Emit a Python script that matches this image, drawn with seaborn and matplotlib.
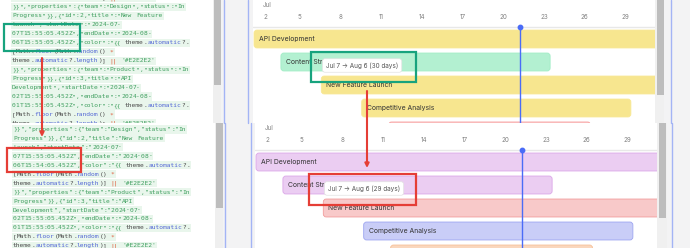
import re
import pandas as pd
import numpy as np
import matplotlib
matplotlib.use('Agg')
import matplotlib.pyplot as plt
import seaborn as sns
from matplotlib.patches import Rectangle, FancyBboxPatch

# --- data -------------------------------------------------------------
tasks = ["API Development", "Content Strategy", "New Feature Launch",
         "Competitive Analysis", "Market Research"]
start_dates = ["2024-07-02T15:55", "2024-07-04T15:55", "2024-07-07T15:55",
               "2024-07-10T15:55", "2024-07-12T15:55"]
end_dates_before = ["2024-08-01T15:55", "2024-07-24T15:55", "2024-08-06T15:55",
                    "2024-07-30T15:55", "2024-07-27T15:55"]
end_dates_after = ["2024-08-01T15:55", "2024-07-24T15:55", "2024-08-06T15:54",
                   "2024-07-30T15:55", "2024-07-27T15:55"]
colors_before = ["#f7e68f", "#b3f0d1", "#f7e68f", "#f7e68f", "#fcd6d6"]
colors_after = ["#ebcdf2", "#ebcdf2", "#f8c9c9", "#c9cdf7", "#fad7bd"]
day_ticks = [2, 5, 8, 11, 14, 17, 20, 23, 26, 29]
today = "2024-07-22T10:00"
tooltip_task = "New Feature Launch"

code_before = [
    "theme.automatic?.length)] || '#E2E2E2'",
    '}}","properties":{"team":"Design","status":"In',
    'Progress"}},{"id":2,"title":"New Feature',
    'Launch","startDate":"2024-07-',
    '07T15:55:05.452Z","endDate":"2024-08-',
    '06T15:55:05.452Z","color":"{{ theme.automatic?.',
    '[Math.floor(Math.random() *',
    "theme.automatic?.length)] || '#E2E2E2'",
    '}}","properties":{"team":"Product","status":"In',
    'Progress"}},{"id":3,"title":"API',
    'Development","startDate":"2024-07-',
    '02T15:55:05.452Z","endDate":"2024-08-',
    '01T15:55:05.452Z","color":"{{ theme.automatic?.',
    '[Math.floor(Math.random() *',
    "theme.automatic?.length)] || '#E2E2E2'",
]
code_after = list(code_before)
code_after[5] = '06T15:54:05.452Z","color":"{{ theme.automatic?.'

# --- setup ------------------------------------------------------------
sns.set_theme(style="white")
plt.rcParams['font.family'] = ['Inter', 'DejaVu Sans']

W, H = 690, 248
fig = plt.figure(figsize=(W / 100, H / 100), dpi=100, facecolor='#f3f3f4')


def px_axes(x0, y0, w, h, z=1):
    ax = fig.add_axes([x0 / W, 1 - (y0 + h) / H, w / W, h / H], zorder=z)
    return ax


def to_day(s):
    t = pd.Timestamp(s)
    return (t - pd.Timestamp("2024-07-01")) / pd.Timedelta(days=1) + 1


GREEN, DARK, BLUE, RED = '#3f9f5f', '#4a4a4a', '#5266d6', '#e0603f'
FS = 4.5
CW = 0.602 * FS * 100 / 72
TOKEN = re.compile(r"\{\{|\}\}|'[^']*'|[A-Za-z_]+|\|\||.")


def draw_code(ax, lines, x0, y0, ls, in_tpl):
    for i, line in enumerate(lines):
        y = y0 + i * ls
        ax.add_patch(Rectangle((x0 - 1, y - 4.2), len(line) * CW + 2, 8.4,
                               fc='#e9f6ec', ec='none', zorder=1))
        col = 0
        for m in TOKEN.finditer(line):
            tok = m.group()
            if tok in ('{{', '}}'):
                c = GREEN
                in_tpl = tok == '{{'
            elif not in_tpl or tok.startswith("'"):
                c = GREEN
            elif tok in ('theme', 'Math'):
                c = DARK
            elif tok[0].isalpha():
                c = BLUE
            elif tok in ('*', '||'):
                c = RED
            else:
                c = DARK
            if not tok.isspace():
                ax.text(x0 + col * CW, y, tok, color=c, fontsize=FS,
                        family='DejaVu Sans Mono', va='center', ha='left',
                        clip_on=True, zorder=2)
            col += len(tok)


def code_panel(x0, y0, w, h, lines, tx, ty, in_tpl):
    ax = px_axes(x0, y0, w, h)
    ax.set_xlim(0, w)
    ax.set_ylim(h, 0)
    ax.set_facecolor('white')
    ax.axis('off')
    ax.add_patch(Rectangle((0, 0), w, h, fc='white', ec='none', zorder=0))
    draw_code(ax, lines, tx, ty, 8.97, in_tpl)


code_panel(0, 0, 213, 123, code_before, 12, -2.0, True)
# the lower screenshot starts one line further down the same text
code_panel(0, 123, 215, 125, code_after[1:], 13, 6.3, True)

PXD = 13.46  # pixels per day
ROW0, ROWH = 39, 23


def ry(px):
    return (px - ROW0) / ROWH


def gantt(x0, y0, w, h, end_dates, colors):
    ax = px_axes(x0, y0, w, h, z=2)
    df = pd.DataFrame({
        'task': tasks,
        'start': [to_day(s) for s in start_dates],
        'end': [to_day(e) for e in end_dates],
    })
    df['dur'] = df['end'] - df['start']
    sns.barplot(data=df, x='dur', y='task', hue='task', palette=colors,
                orient='h', width=0.78, legend=False, ax=ax)
    left = df['start'].iloc[0] - 1 / PXD
    xlim = (left, left + w / PXD)
    ylim = (ry(h), ry(0))
    ax.set_xlim(*xlim)
    ax.set_ylim(*ylim)
    aspect = (1 / ROWH) / (1 / PXD)
    for patch, st, col in zip(list(ax.patches), df['start'], colors):
        y, hh, ww = patch.get_y(), patch.get_height(), patch.get_width()
        patch.remove()
        ax.add_patch(FancyBboxPatch((st, y), ww, hh,
                                    boxstyle="round,pad=0,rounding_size=0.22",
                                    mutation_aspect=aspect, fc=col,
                                    ec=sns.set_hls_values(col, l=0.78), lw=0.6,
                                    zorder=2))
    for t, st in zip(df['task'], df['start']):
        ax.text(st + 0.37, tasks.index(t), t, fontsize=4.9, color='#333333',
                va='center', ha='left', clip_on=True, zorder=3)
    # header
    ax.text(xlim[0] + 0.75, ry(5), 'Jul', fontsize=4.5, color='#808080',
            va='center', ha='left')
    for d in day_ticks:
        ax.text(max(d + 0.93, xlim[0] + 0.75), ry(17), str(d), fontsize=4.5,
                color='#808080', va='center', ha='left')
    ax.axhline(ry(27), color='#e8e8e8', lw=1, zorder=1)
    # today marker
    td = to_day(today)
    ax.plot([td, td], [ry(27), ylim[0]], color='#4a6cf7', lw=1, zorder=4)
    ax.plot([td], [ry(27)], 'o', color='#4a6cf7', ms=3.2, zorder=5)
    # tooltip
    i = tasks.index(tooltip_task)
    st, en = pd.Timestamp(start_dates[i]), pd.Timestamp(end_dates[i])
    ndays = int((en - st) / pd.Timedelta(days=1))
    label = f"{st.strftime('%b')} {st.day} → {en.strftime('%b')} {en.day} ({ndays} days)"
    ax.text(df['start'].iloc[i] + 0.35, ry(65.5), label, fontsize=4.6,
            color='#555555', va='center', ha='left', zorder=6,
            bbox=dict(boxstyle='round,pad=0.55,rounding_size=0.4', fc='white',
                      ec='#e2e2e2', lw=0.5))
    ax.set_xticks([])
    ax.set_yticks([])
    ax.set_xlabel('')
    ax.set_ylabel('')
    ax.set_facecolor('white')
    for s in ax.spines.values():
        s.set_visible(False)
    return ax


gantt(253, 0, 402, 123, end_dates_before, colors_before)
gantt(255, 123, 402, 125, end_dates_after, colors_after)

# --- overlay: scrollbars, borders, highlights ------------------------
ov = px_axes(0, 0, W, H, z=10)
ov.set_xlim(0, W)
ov.set_ylim(H, 0)
ov.axis('off')
ov.patch.set_alpha(0)


def rect(x, y, w, h, c):
    ov.add_patch(Rectangle((x, y), w, h, fc=c, ec='none'))


rect(213, 0, 8, 123, '#efefef')
rect(214, 0, 7, 85, '#bdbdbd')
rect(215, 123, 8, 125, '#efefef')
rect(216, 123, 7, 85, '#bdbdbd')
rect(655, 0, 9, 123, '#f0f0f0')
rect(657, 0, 7, 95, '#bdbdbd')
rect(657, 123, 10, 125, '#f0f0f0')
rect(659, 123, 7, 95, '#bdbdbd')
for x, y1, y2 in [(224, 0, 123), (225, 123, 248), (248, 0, 123),
                  (250.5, 123, 248), (671, 0, 123), (672, 123, 248)]:
    ov.plot([x, x], [y1, y2], color='#a3b4f5', lw=1)

GBOX, RBOX = '#17a37e', '#e53e36'
for (x, y, w, h, c) in [(4, 24, 76, 27, GBOX), (311, 52, 105, 30, GBOX),
                        (7, 148, 74, 24, RBOX), (309, 174, 107, 31, RBOX)]:
    ov.add_patch(Rectangle((x, y), w, h, fill=False, ec=c, lw=1.6))

for (x, y1, y2) in [(42, 58, 137), (367, 91, 168)]:
    ov.annotate('', xy=(x, y2), xytext=(x, y1),
                arrowprops=dict(arrowstyle='-|>', color=RBOX, lw=1.5,
                                mutation_scale=6, shrinkA=0, shrinkB=0))

plt.savefig('out.png', dpi=100, facecolor=fig.get_facecolor())
plt.close('all')
